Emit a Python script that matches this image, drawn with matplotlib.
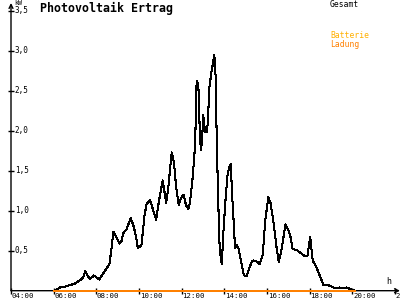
import matplotlib
matplotlib.use("Agg")
import matplotlib.pyplot as plt
import matplotlib.transforms as mtransforms
import numpy as np

# hours of day / kW
hours = [6.05, 6.30, 6.53, 6.77, 7.00, 7.23, 7.39, 7.48, 7.60, 7.72, 7.89, 8.14,
         8.33, 8.51, 8.61, 8.72, 8.80, 8.91, 9.08, 9.17, 9.26, 9.42, 9.61, 9.73,
         9.86, 9.94, 10.11, 10.26, 10.36, 10.52, 10.66, 10.80, 10.94, 11.11, 11.27,
         11.36, 11.53, 11.64, 11.73, 11.86, 11.97, 12.09, 12.20, 12.31, 12.39,
         12.52, 12.63, 12.70, 12.78, 12.86, 12.91, 12.97, 13.01, 13.09, 13.17,
         13.22, 13.30, 13.39, 13.53, 13.60, 13.64, 13.72, 13.76, 13.83, 13.88,
         13.95, 14.05, 14.14, 14.23, 14.30, 14.35, 14.42, 14.50, 14.57, 14.66,
         14.77, 14.89, 14.97, 15.04, 15.12, 15.28, 15.36, 15.55, 15.65, 15.80,
         15.91, 16.06, 16.16, 16.30, 16.45, 16.55, 16.69, 16.86, 17.00, 17.11,
         17.20, 17.39, 17.58, 17.78, 17.89, 18.02, 18.14, 18.33, 18.56, 18.64,
         18.87, 19.03, 19.19, 19.39, 19.58, 19.74, 19.89, 20.13]
gesamt = [0.00, 0.04, 0.05, 0.07, 0.09, 0.13, 0.17, 0.25, 0.18, 0.15, 0.19, 0.14,
          0.22, 0.29, 0.33, 0.55, 0.74, 0.68, 0.59, 0.61, 0.72, 0.77, 0.91, 0.82,
          0.68, 0.54, 0.56, 0.95, 1.09, 1.13, 1.01, 0.89, 1.13, 1.38, 1.10,
          1.26, 1.73, 1.60, 1.32, 1.07, 1.16, 1.20, 1.07, 1.02, 1.11,
          1.43, 1.84, 2.63, 2.57, 1.88, 1.76, 1.97, 2.20, 1.99, 1.98,
          2.09, 2.55, 2.73, 2.95, 2.63, 1.88, 1.05, 0.63, 0.41, 0.33,
          0.72, 1.13, 1.43, 1.55, 1.59, 1.26, 0.93, 0.53, 0.57, 0.53,
          0.38, 0.22, 0.18, 0.18, 0.25, 0.36, 0.38, 0.36, 0.33, 0.45,
          0.87, 1.17, 1.10, 0.86, 0.53, 0.36, 0.53, 0.83, 0.76, 0.66,
          0.52, 0.51, 0.47, 0.43, 0.43, 0.67, 0.38, 0.28, 0.13, 0.07,
          0.07, 0.05, 0.03, 0.04, 0.03, 0.04, 0.02, 0.00]
batt_hours = [6.0, 20.1]
batterie = [0.0, 0.0]
ladung = [0.0, 0.0]

xticks = [4, 6, 8, 10, 12, 14, 16, 18, 20, 22]
xlabels = ["04:00", "06:00", "08:00", "10:00", "12:00", "14:00", "16:00", "18:00", "20:00", "22:00"]
yticks = [0.5, 1.0, 1.5, 2.0, 2.5, 3.0, 3.5]
ylabels = ["0,5", "1,0", "1,5", "2,0", "2,5", "3,0", "3,5"]

plt.rcParams["font.family"] = "DejaVu Sans Mono"

c_batt = "#ffb000"
c_lad = "#ff8000"

fig = plt.figure(figsize=(4, 3), dpi=100)
ax = fig.add_axes([11 / 400, 9.3 / 300, 389 / 400, 287.7 / 300])
ax.set_xlim(4, 22.23)
ax.set_ylim(0, 3.6)

ax.plot(hours, gesamt, color="black", lw=0.75, antialiased=False, zorder=3)
ax.plot(batt_hours, batterie, color=c_batt, lw=1.4, antialiased=False, zorder=4, clip_on=False)
ax.plot(batt_hours, ladung, color=c_lad, lw=1.4, antialiased=False, zorder=5, clip_on=False)

for s in ["top", "right", "left", "bottom"]:
    ax.spines[s].set_visible(False)
# axes with arrows
ax.annotate("", xy=(0, 1.0), xytext=(0, 0), xycoords="axes fraction",
            arrowprops=dict(arrowstyle="->", lw=1.0, color="black", shrinkA=0, shrinkB=0,
                            mutation_scale=7))
ax.annotate("", xy=(1.0, 0), xytext=(0, 0), xycoords="axes fraction",
            arrowprops=dict(arrowstyle="->", lw=1.0, color="black", shrinkA=0, shrinkB=0,
                            mutation_scale=7))

ax.set_xticks(xticks)
ax.set_yticks(yticks)
ax.tick_params(axis="both", direction="inout", length=5, width=1.0,
               labelbottom=False, labelleft=False)

tx = mtransforms.blended_transform_factory(ax.transData, ax.transAxes)
for t, lab in zip(xticks, xlabels):
    ax.text(t + 0.03, -0.0075, lab, transform=tx, ha="left", va="top",
            fontsize=5.3, clip_on=False)
ty = mtransforms.blended_transform_factory(ax.transAxes, ax.transData)
for v, lab in zip(yticks, ylabels):
    ax.text(0.010, v, lab, transform=ty, ha="left", va="center",
            fontsize=5.5, clip_on=False)

fig.text(40 / 400, 1 - 8.5 / 300, "Photovoltaik Ertrag", fontsize=8.4,
         fontweight="bold", ha="left", va="center")
fig.text(14 / 400, 1 - 3 / 300, "kW", fontsize=4.8, ha="left", va="center")
fig.text(330 / 400, 1 - 4.5 / 300, "Gesamt", fontsize=5.8, ha="left", va="center")
fig.text(330 / 400, 1 - 36 / 300, "Batterie", fontsize=5.8, color=c_batt,
         ha="left", va="center")
fig.text(330 / 400, 1 - 44.5 / 300, "Ladung", fontsize=5.8, color=c_lad,
         ha="left", va="center")
fig.text(386 / 400, 1 - 282 / 300, "h", fontsize=6, ha="left", va="center")

plt.savefig("out.png", dpi=100)
plt.close()
